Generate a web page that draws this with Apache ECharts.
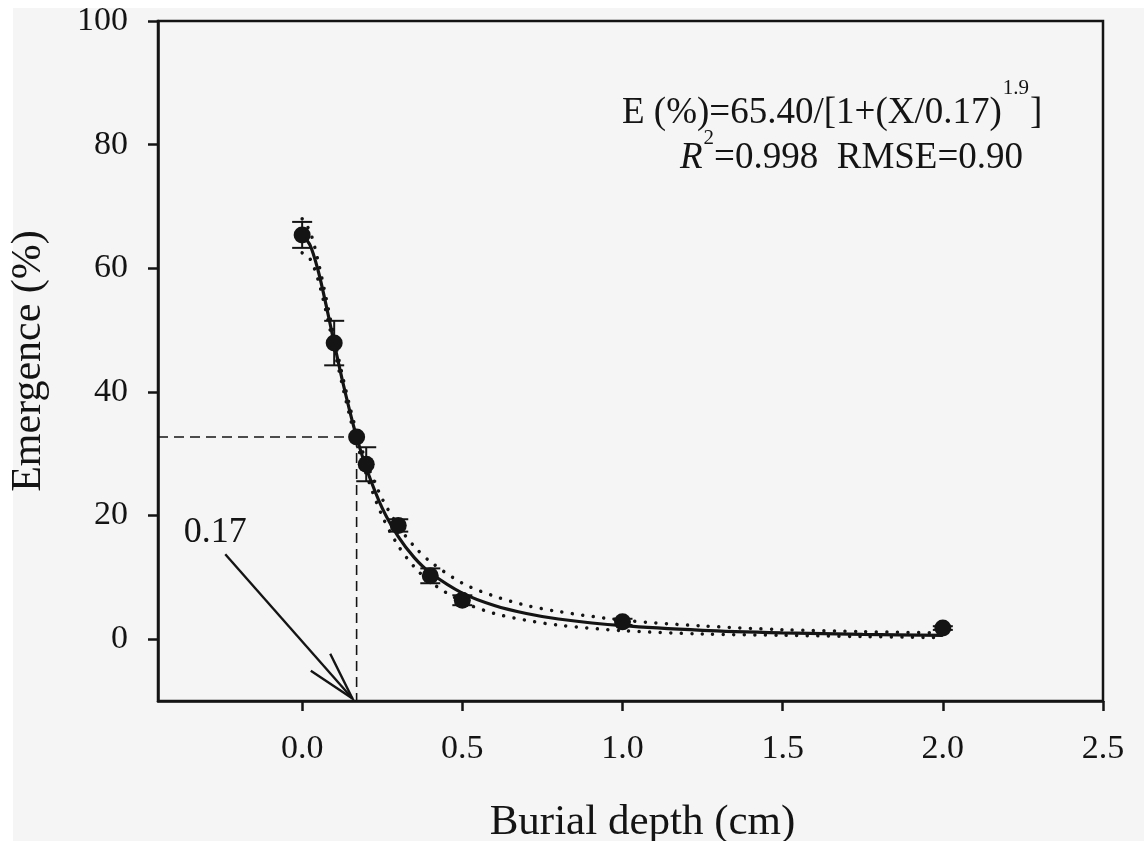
<!DOCTYPE html>
<html>
<head>
<meta charset="utf-8">
<title>Emergence vs burial depth</title>
<script src="https://cdn.jsdelivr.net/npm/echarts@6/dist/echarts.min.js"></script>
<style>
  html, body { margin: 0; padding: 0; background: #ffffff; }
  #chart {
    position: absolute; left: 0; top: 0; width: 1144px; height: 841px;
    background: #f5f5f5;
    box-shadow: inset 13px 8px 0 #ffffff;
  }
</style>
</head>
<body>
<div id="chart"></div>
<script>
// Observed seedling emergence (%) at each burial depth (cm), with error bars
const depth     = [0, 0.1, 0.2, 0.3, 0.4, 0.5, 1.0, 2.0];
const emergence = [65.4, 47.9, 28.3, 18.4, 10.25, 6.3, 2.8, 1.8];
const errorSE   = [2.1, 3.6, 2.75, 1.0, 1.2, 0.8, 0.5, 0.3];

// Fitted three-parameter log-logistic curve and its dotted confidence band
const fitX   = [0, 0.025, 0.05, 0.075, 0.1, 0.125, 0.15, 0.17, 0.2, 0.25, 0.3, 0.35, 0.4, 0.5, 0.6, 0.7, 0.8, 1.0, 1.25, 1.5, 1.75, 2.0];
const fitY   = [65.4, 63.7, 59.6, 54.0, 47.9, 42.0, 36.6, 32.7, 27.7, 21.2, 16.6, 13.2, 10.75, 7.46, 5.46, 4.16, 3.27, 2.18, 1.44, 1.03, 0.77, 0.60];
const upperY = [68.0, 65.9, 61.1, 55.1, 48.8, 42.8, 37.4, 33.5, 28.7, 22.7, 18.3, 15.0, 12.55, 9.06, 6.96, 5.46, 4.47, 3.08, 2.14, 1.53, 1.22, 1.0];
const lowerY = [62.5, 61.5, 58.1, 52.9, 47.0, 41.2, 35.8, 31.9, 26.7, 19.9, 15.1, 11.7, 9.25, 6.06, 4.16, 3.06, 2.27, 1.38, 0.84, 0.63, 0.42, 0.25];

// Depth giving 50% of maximum emergence
const halfDepth = 0.17;
const halfEmergence = 32.7;

// Arrow pointing at the half-emergence depth on the x axis
const arrowTail = [-0.24, 13.75];
const arrowTip  = [0.157, -9.6];
const arrowLabel = '0.17';

// Axes
const xMin = -0.45, xMax = 2.5;
const yMin = -10, yMax = 100;
const xTicks = [0, 0.5, 1.0, 1.5, 2.0, 2.5];
const yTicks = [0, 20, 40, 60, 80, 100];
const xTitle = 'Burial depth (cm)';
const yTitle = 'Emergence (%)';

// Equation and goodness-of-fit text
const eqMain = 'E (%)=65.40/[1+(X/0.17)';
const eqExp  = '1.9';
const eqEnd  = ']';
const statR    = 'R';
const statExp  = '2';
const statRest = '=0.998  RMSE=0.90';

const FONT = '"Liberation Serif", "Times New Roman", serif';
const INK = '#141414';

const pairs = (xs, ys) => xs.map((x, i) => [x, ys[i]]);

const chart = echarts.init(document.getElementById('chart'), null, { renderer: 'canvas' });

const dotted = { color: INK, width: 3.5, type: [0.01, 10.5], cap: 'round' };
const SMOOTH = 0.3;

const option = {
  backgroundColor: 'transparent',
  animation: false,
  grid: {
    left: 158, top: 21, right: 41, bottom: 140,
    outerBoundsMode: 'none', containLabel: false,
    show: true, borderColor: INK, borderWidth: 2.5, backgroundColor: 'transparent'
  },
  xAxis: {
    type: 'value', min: xMin, max: xMax,
    name: xTitle, nameLocation: 'middle', nameGap: 100,
    nameTextStyle: { fontFamily: FONT, fontSize: 43, color: INK, padding: [0, 0, 0, 24] },
    axisLine: { show: true, onZero: false, lineStyle: { color: INK, width: 2.5 } },
    axisTick: { show: true, length: 10, lineStyle: { color: INK, width: 2.5 }, customValues: xTicks },
    axisLabel: {
      show: true, margin: 31, fontFamily: FONT, fontSize: 34, color: INK,
      customValues: xTicks, formatter: v => Number(v).toFixed(1)
    },
    splitLine: { show: false }
  },
  yAxis: {
    type: 'value', min: yMin, max: yMax,
    name: yTitle, nameLocation: 'middle', nameGap: 108, nameRotate: 90,
    nameTextStyle: { fontFamily: FONT, fontSize: 42, color: INK },
    axisLine: { show: true, onZero: false, lineStyle: { color: INK, width: 2.5 } },
    axisTick: { show: true, length: 10, lineStyle: { color: INK, width: 2.5 }, customValues: yTicks },
    axisLabel: {
      show: true, margin: 30, fontFamily: FONT, fontSize: 34, color: INK,
      customValues: yTicks, formatter: v => String(v)
    },
    splitLine: { show: false }
  },
  series: [
    {
      name: 'reference-h', type: 'line', silent: true, symbol: 'none', z: 1,
      data: [[xMin, halfEmergence], [halfDepth, halfEmergence]],
      lineStyle: { color: INK, width: 1.6, type: [10, 6] }
    },
    {
      name: 'reference-v', type: 'line', silent: true, symbol: 'none', z: 1,
      data: [[halfDepth, halfEmergence], [halfDepth, yMin]],
      lineStyle: { color: INK, width: 1.6, type: [10, 6] }
    },
    {
      name: 'upper', type: 'line', silent: true, symbol: 'none', z: 2,
      smooth: SMOOTH, data: pairs(fitX, upperY), lineStyle: dotted
    },
    {
      name: 'lower', type: 'line', silent: true, symbol: 'none', z: 2,
      smooth: SMOOTH, data: pairs(fitX, lowerY), lineStyle: dotted
    },
    {
      name: 'fit', type: 'line', silent: true, symbol: 'none', z: 3,
      smooth: SMOOTH, data: pairs(fitX, fitY), lineStyle: { color: INK, width: 3.2 }
    },
    {
      name: 'error', type: 'custom', z: 4, silent: true,
      data: depth.map((x, i) => [x, emergence[i], errorSE[i]]),
      renderItem: function (params, api) {
        const x = api.value(0), y = api.value(1), e = api.value(2);
        const top = api.coord([x, y + e]);
        const bot = api.coord([x, y - e]);
        const hw = 10;
        const st = { stroke: INK, lineWidth: 2 };
        return {
          type: 'group',
          children: [
            { type: 'line', shape: { x1: top[0], y1: top[1], x2: bot[0], y2: bot[1] }, style: st },
            { type: 'line', shape: { x1: top[0] - hw, y1: top[1], x2: top[0] + hw, y2: top[1] }, style: st },
            { type: 'line', shape: { x1: bot[0] - hw, y1: bot[1], x2: bot[0] + hw, y2: bot[1] }, style: st }
          ]
        };
      }
    },
    {
      name: 'observed', type: 'scatter', z: 5, silent: true,
      symbol: 'circle', symbolSize: 17,
      itemStyle: { color: INK, opacity: 1 },
      data: pairs(depth, emergence)
    },
    {
      name: 'half', type: 'scatter', z: 5, silent: true,
      symbol: 'circle', symbolSize: 17,
      itemStyle: { color: INK, opacity: 1 },
      data: [[halfDepth, halfEmergence]]
    }
  ]
};

chart.setOption(option);

// Text measuring for the superscript layout
const measureCtx = document.createElement('canvas').getContext('2d');
function textWidth(str, size, style) {
  measureCtx.font = (style ? style + ' ' : '') + size + 'px ' + FONT;
  return measureCtx.measureText(str).width;
}
// place a text so that its alphabetic baseline sits at y
function baselineText(str, x, baseline, size, style) {
  return {
    type: 'text', x: x, y: baseline - 0.3375 * size, z: 10, silent: true,
    style: {
      text: str, fill: INK,
      font: (style ? style + ' ' : '') + size + 'px ' + FONT,
      textAlign: 'left', textVerticalAlign: 'middle'
    }
  };
}

function drawAnnotations() {
  const els = [];
  const big = 37, small = 21;

  // equation line
  let x = 622;
  els.push(baselineText(eqMain, x, 126, big));
  x += textWidth(eqMain, big) + 1;
  els.push(baselineText(eqExp, x, 96, small));
  x += textWidth(eqExp, small) + 1;
  els.push(baselineText(eqEnd, x, 126, big));

  // statistics line
  x = 680;
  els.push(baselineText(statR, x, 171, big, 'italic'));
  x += textWidth(statR, big, 'italic') + 1;
  els.push(baselineText(statExp, x, 146, small));
  x += textWidth(statExp, small);
  els.push(baselineText(statRest, x, 171, big));

  // arrow with open head
  const t = chart.convertToPixel({ gridIndex: 0 }, arrowTail);
  const p = chart.convertToPixel({ gridIndex: 0 }, arrowTip);
  const ang = Math.atan2(t[1] - p[1], t[0] - p[0]);
  const L = 50, spread = 15 * Math.PI / 180;
  const w1 = [p[0] + L * Math.cos(ang + spread), p[1] + L * Math.sin(ang + spread)];
  const w2 = [p[0] + L * Math.cos(ang - spread), p[1] + L * Math.sin(ang - spread)];
  const arrowStyle = { stroke: INK, lineWidth: 2.4, fill: null, lineCap: 'butt' };
  els.push({ type: 'polyline', z: 10, silent: true, shape: { points: [t, p] }, style: arrowStyle });
  els.push({ type: 'polyline', z: 10, silent: true, shape: { points: [w1, p, w2] }, style: arrowStyle });

  // arrow label
  els.push({
    type: 'text', x: t[0] - 10, y: t[1] - 22, z: 10, silent: true,
    style: { text: arrowLabel, fill: INK, font: '36px ' + FONT, textAlign: 'center', textVerticalAlign: 'middle' }
  });

  chart.setOption({ graphic: els });
}

drawAnnotations();
</script>
</body>
</html>
